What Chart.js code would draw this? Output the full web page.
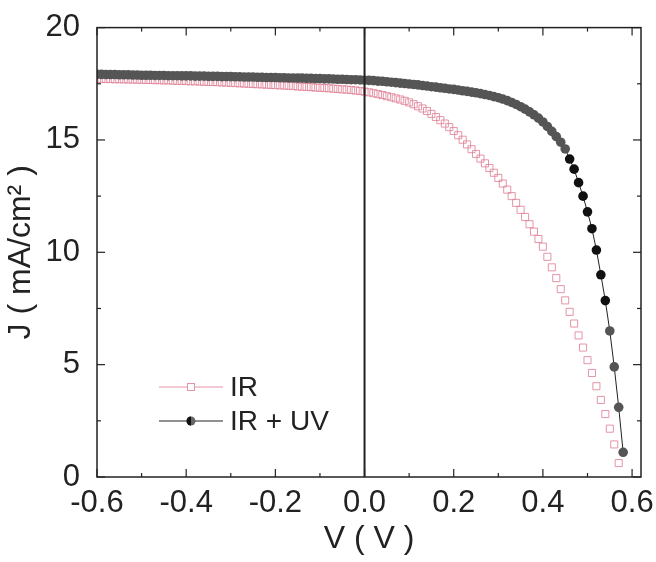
<!DOCTYPE html>
<html>
<head>
<meta charset="utf-8">
<script src="https://cdn.jsdelivr.net/npm/chart.js@4/dist/chart.umd.min.js"></script>
<style>
  body { margin: 0; background: #fff; }
  #wrap { width: 656px; height: 562px; }
</style>
</head>
<body>
<div id="wrap"><canvas id="jvChart"></canvas></div>
<script>
// J-V curves
const voltage = [
  -0.60, -0.59, -0.58, -0.57, -0.56, -0.55, -0.54, -0.53, -0.52, -0.51,
  -0.50, -0.49, -0.48, -0.47, -0.46, -0.45, -0.44, -0.43, -0.42, -0.41,
  -0.40, -0.39, -0.38, -0.37, -0.36, -0.35, -0.34, -0.33, -0.32, -0.31,
  -0.30, -0.29, -0.28, -0.27, -0.26, -0.25, -0.24, -0.23, -0.22, -0.21,
  -0.20, -0.19, -0.18, -0.17, -0.16, -0.15, -0.14, -0.13, -0.12, -0.11,
  -0.10, -0.09, -0.08, -0.07, -0.06, -0.05, -0.04, -0.03, -0.02, -0.01,
  0.00, 0.01, 0.02, 0.03, 0.04, 0.05, 0.06, 0.07, 0.08, 0.09,
  0.10, 0.11, 0.12, 0.13, 0.14, 0.15, 0.16, 0.17, 0.18, 0.19,
  0.20, 0.21, 0.22, 0.23, 0.24, 0.25, 0.26, 0.27, 0.28, 0.29,
  0.30, 0.31, 0.32, 0.33, 0.34, 0.35, 0.36, 0.37, 0.38, 0.39,
  0.40, 0.41, 0.42, 0.43, 0.44, 0.45, 0.46, 0.47, 0.48, 0.49,
  0.50, 0.51, 0.52, 0.53, 0.54, 0.55, 0.56, 0.57, 0.58
];

// IR only (ends at 0.57 V)
const irJ = [
  17.72, 17.72, 17.71, 17.71, 17.70, 17.70, 17.70, 17.69, 17.69, 17.68,
  17.68, 17.67, 17.67, 17.66, 17.66, 17.65, 17.65, 17.64, 17.63, 17.63,
  17.62, 17.61, 17.61, 17.60, 17.59, 17.58, 17.58, 17.57, 17.56, 17.55,
  17.54, 17.53, 17.52, 17.51, 17.50, 17.49, 17.48, 17.47, 17.46, 17.45,
  17.44, 17.43, 17.42, 17.41, 17.40, 17.38, 17.37, 17.36, 17.35, 17.33,
  17.32, 17.31, 17.30, 17.28, 17.27, 17.25, 17.24, 17.22, 17.20, 17.18,
  17.15, 17.12, 17.08, 17.04, 17.00, 16.95, 16.90, 16.85, 16.80, 16.74,
  16.67, 16.59, 16.50, 16.40, 16.29, 16.16, 16.02, 15.88, 15.73, 15.57,
  15.40, 15.21, 15.01, 14.80, 14.59, 14.38, 14.17, 13.96, 13.75, 13.54,
  13.31, 13.06, 12.79, 12.50, 12.20, 11.89, 11.57, 11.25, 10.92, 10.59,
  10.25, 9.80, 9.33, 8.85, 8.36, 7.86, 7.35, 6.83, 6.30, 5.76,
  5.20, 4.63, 4.04, 3.43, 2.80, 2.15, 1.45, 0.62
];

// IR + UV
const uvJ = [
  17.92, 17.92, 17.91, 17.91, 17.91, 17.90, 17.90, 17.90, 17.89, 17.89,
  17.88, 17.88, 17.88, 17.87, 17.87, 17.87, 17.86, 17.86, 17.86, 17.85,
  17.85, 17.85, 17.84, 17.84, 17.84, 17.83, 17.83, 17.83, 17.82, 17.82,
  17.82, 17.81, 17.81, 17.80, 17.80, 17.80, 17.79, 17.79, 17.78, 17.78,
  17.78, 17.77, 17.77, 17.76, 17.76, 17.75, 17.75, 17.74, 17.74, 17.73,
  17.73, 17.72, 17.72, 17.71, 17.70, 17.70, 17.69, 17.68, 17.68, 17.67,
  17.66, 17.65, 17.64, 17.62, 17.61, 17.59, 17.57, 17.55, 17.53, 17.51,
  17.49, 17.47, 17.45, 17.42, 17.40, 17.37, 17.35, 17.32, 17.30, 17.27,
  17.25, 17.22, 17.19, 17.16, 17.13, 17.10, 17.06, 17.02, 16.98, 16.93,
  16.88, 16.82, 16.75, 16.67, 16.58, 16.48, 16.37, 16.25, 16.12, 15.97,
  15.80, 15.60, 15.38, 15.15, 14.90, 14.60, 14.15, 13.70, 13.10, 12.50,
  11.80, 11.05, 10.10, 9.00, 7.85, 6.50, 4.90, 3.10, 1.10
];

const seriesNames = ['IR', 'IR + UV'];
const xTicks = [-0.6, -0.4, -0.2, 0.0, 0.2, 0.4, 0.6];
const yTicks = [0, 5, 10, 15, 20];

const FAMILY = "'Liberation Sans', Arial, sans-serif";
const TICK_FONT = { family: FAMILY, size: 31 };
const TITLE_FONT = { family: FAMILY, size: 32 };
const LEGEND_SIZE = 28;
const INK = '#222';
const PINK = 'rgba(225, 130, 152, 0.85)';

function points(ys) {
  return ys.map((j, i) => ({ x: voltage[i], y: j }));
}

// black dots in the steep part, grey elsewhere
function uvDotColor(c) {
  const v = c.raw ? c.raw.y : 0;
  return (v < 14.2 && v > 7) ? '#111' : '#555';
}

// frame, inward ticks on all four sides, V = 0 line
const frameTicks = {
  id: 'frameTicks',
  afterDatasetsDraw(chart) {
    const { ctx, chartArea: a, scales: { x, y } } = chart;
    ctx.save();
    ctx.strokeStyle = INK;

    const x0 = x.getPixelForValue(0);
    ctx.lineWidth = 2;
    ctx.beginPath();
    ctx.moveTo(x0, a.top);
    ctx.lineTo(x0, a.bottom);
    ctx.stroke();

    ctx.lineWidth = 1.5;
    ctx.strokeRect(a.left, a.top, a.right - a.left, a.bottom - a.top);

    ctx.lineWidth = 1.2;
    const seg = (x1, y1, x2, y2) => {
      ctx.beginPath(); ctx.moveTo(x1, y1); ctx.lineTo(x2, y2); ctx.stroke();
    };
    const xv = x.ticks.map(t => t.value);
    xv.forEach((v, i) => {
      const p = x.getPixelForValue(v);
      seg(p, a.bottom, p, a.bottom - 8);
      seg(p, a.top, p, a.top + 8);
      if (i < xv.length - 1) {
        const m = x.getPixelForValue((v + xv[i + 1]) / 2);
        seg(m, a.bottom, m, a.bottom - 4);
        seg(m, a.top, m, a.top + 4);
      }
    });
    const yv = y.ticks.map(t => t.value);
    yv.forEach((v, i) => {
      const p = y.getPixelForValue(v);
      seg(a.left, p, a.left + 8, p);
      seg(a.right, p, a.right - 8, p);
      if (i < yv.length - 1) {
        const m = y.getPixelForValue((v + yv[i + 1]) / 2);
        seg(a.left, m, a.left + 4, m);
        seg(a.right, m, a.right - 4, m);
      }
    });
    ctx.restore();
  }
};

// legend inside the lower left of the plot
const insetLegend = {
  id: 'insetLegend',
  afterDraw(chart) {
    const { ctx, chartArea: a } = chart;
    const x1 = a.left + 62, x2 = a.left + 126, xm = (x1 + x2) / 2;
    const rows = [a.bottom - 90, a.bottom - 56];
    ctx.save();
    ctx.font = `${LEGEND_SIZE}px ${FAMILY}`;
    ctx.textBaseline = 'middle';
    ctx.fillStyle = INK;

    // IR row
    let yy = rows[0];
    ctx.strokeStyle = PINK; ctx.lineWidth = 1;
    ctx.beginPath(); ctx.moveTo(x1, yy); ctx.lineTo(xm - 4, yy);
    ctx.moveTo(xm + 4, yy); ctx.lineTo(x2, yy); ctx.stroke();
    ctx.strokeRect(xm - 3.5, yy - 3.5, 7, 7);
    ctx.fillText(seriesNames[0], x2 + 7, yy + 1);

    // IR + UV row
    yy = rows[1];
    ctx.strokeStyle = INK; ctx.lineWidth = 1;
    ctx.beginPath(); ctx.moveTo(x1, yy); ctx.lineTo(x2, yy); ctx.stroke();
    ctx.fillStyle = '#666';
    ctx.beginPath(); ctx.arc(xm, yy, 4.5, 0, Math.PI * 2); ctx.fill();
    ctx.fillStyle = '#111';
    ctx.beginPath(); ctx.arc(xm, yy, 4.5, Math.PI / 2, Math.PI * 1.5); ctx.fill();
    ctx.fillStyle = INK;
    ctx.fillText(seriesNames[1], x2 + 7, yy + 1);
    ctx.restore();
  }
};

new Chart(document.getElementById('jvChart'), {
  type: 'scatter',
  data: {
    datasets: [
      {
        label: seriesNames[0],
        data: points(irJ),
        showLine: false,
        pointStyle: 'rect',
        pointRadius: 5,
        pointBorderWidth: 1,
        pointBorderColor: PINK,
        pointBackgroundColor: 'rgba(255,255,255,0)',
        order: 1
      },
      {
        label: seriesNames[1],
        data: points(uvJ),
        showLine: true,
        borderColor: INK,
        borderWidth: 1,
        pointStyle: 'circle',
        pointRadius: 4.8,
        pointBorderWidth: 0,
        pointBackgroundColor: uvDotColor,
        order: 0
      }
    ]
  },
  options: {
    responsive: true,
    maintainAspectRatio: false,
    animation: false,
    layout: { padding: { top: 25, right: 15, left: 0, bottom: 0 } },
    plugins: {
      legend: { display: false },
      tooltip: { enabled: false }
    },
    scales: {
      x: {
        type: 'linear',
        min: -0.6,
        max: 0.62,
        grid: { display: false },
        border: { display: false },
        afterBuildTicks: s => { s.ticks = xTicks.map(v => ({ value: v })); },
        ticks: {
          padding: 0,
          color: INK,
          font: TICK_FONT,
          maxRotation: 0,
          autoSkip: false,
          callback: v => Number(v).toFixed(1)
        },
        title: {
          display: true,
          text: 'V ( V )',
          color: INK,
          font: TITLE_FONT,
          padding: { top: 0, bottom: 4 }
        },
        afterFit: s => { s.height = 85; }
      },
      y: {
        min: 0,
        max: 20,
        grid: { display: false },
        border: { display: false },
        afterBuildTicks: s => { s.ticks = yTicks.map(v => ({ value: v })); },
        ticks: {
          padding: 9,
          color: INK,
          font: TICK_FONT,
          autoSkip: false
        },
        title: {
          display: true,
          text: 'J ( mA/cm² )',
          color: INK,
          font: TITLE_FONT,
          padding: { top: 2, bottom: 0 }
        },
        afterFit: s => { s.width = 97; }
      }
    }
  },
  plugins: [frameTicks, insetLegend]
});
</script>
</body>
</html>
